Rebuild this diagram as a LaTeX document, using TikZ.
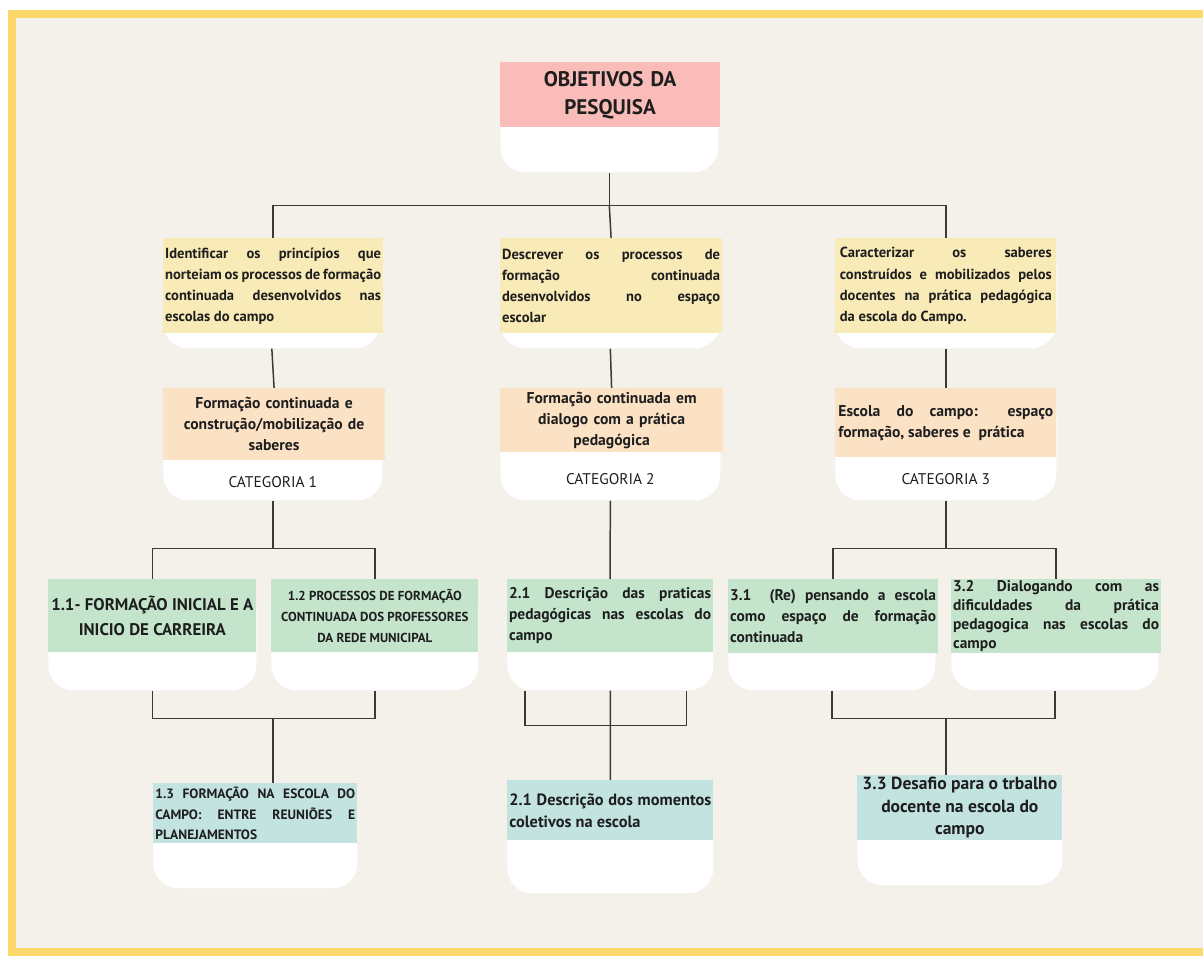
\documentclass[tikz,border=0pt]{standalone}
\usepackage{fontspec}
\setmainfont{PT Sans}
\usetikzlibrary{calc, positioning}
\hyphenpenalty=10000
\exhyphenpenalty=10000

\definecolor{pagebg}{HTML}{F4F0EA}
\definecolor{frameyellow}{HTML}{FCD86A}
\definecolor{titlepink}{HTML}{F9BCB8}
\definecolor{aimyellow}{HTML}{F9EBB7}
\definecolor{catpeach}{HTML}{FCE2C5}
\definecolor{subgreen}{HTML}{C4E5CC}
\definecolor{endteal}{HTML}{C3E3E1}
\definecolor{linegray}{HTML}{3A3A3A}
\definecolor{inkblack}{HTML}{1E1E1E}

\tikzset{
  card/.style={fill=white, rounded corners=0.5cm, inner sep=0pt, anchor=north west},
  box/.style={inner xsep=1pt, inner ysep=0pt, anchor=north west, text=inkblack},
  titlebox/.style={box, fill=titlepink, align=center, font=\bfseries\fontsize{12}{16}\selectfont},
  aimbox/.style={box, fill=aimyellow, align=justify, font=\bfseries\fontsize{8.3}{12}\selectfont},
  catbox/.style={box, fill=catpeach, align=center, font=\bfseries\fontsize{8.9}{12}\selectfont},
  subbox/.style={box, fill=subgreen, align=justify, font=\bfseries\fontsize{8.8}{12}\selectfont},
  endbox/.style={box, fill=endteal, align=justify, font=\bfseries\fontsize{8.6}{12.5}\selectfont},
  catlabel/.style={font=\fontsize{8.8}{10}\selectfont, text=inkblack},
  link/.style={draw=linegray, line width=0.85pt}
}

\begin{document}
\begin{tikzpicture}[x=0.02cm, y=-0.02cm]
\useasboundingbox (0,0) rectangle (1203,956);
\clip (0,0) rectangle (1203,956);

% Page and frame
\fill[white] (0,0) rectangle (1203,956);
\fill[pagebg] (12,14) rectangle (1220,952);
\draw[frameyellow, line width=0.16cm] (12,14) rectangle (1220,952);

% Top box
\node[card, minimum width=4.36cm, minimum height=2.2cm] (objc) at (500,62) {};
\node[titlebox, text width=4.32cm, minimum height=1.3cm] (obj) at (500,62) {OBJETIVOS DA\\PESQUISA};

% Research aims
\node[card, minimum width=4.34cm, minimum height=2.2cm] (aim1c) at (163,238) {};
\node[aimbox, text width=4.32cm, minimum height=1.9cm] (aim1) at (163,238)
  {Identificar os princípios que\linebreak norteiam os processos de formação\linebreak
   continuada desenvolvidos nas\linebreak escolas do campo};
\node[card, minimum width=4.4cm, minimum height=2.2cm] (aim2c) at (500,238) {};
\node[aimbox, text width=4.36cm, minimum height=1.9cm] (aim2) at (500,238)
  {Descrever os processos de\linebreak formação continuada\linebreak
   desenvolvidos no espaço\linebreak escolar};
\node[card, minimum width=4.42cm, minimum height=2.2cm] (aim3c) at (835,238) {};
\node[aimbox, text width=4.24cm, inner xsep=0.09cm, minimum height=1.9cm] (aim3) at (835,238)
  {Caracterizar os saberes\linebreak construídos e mobilizados pelos\linebreak
   docentes na prática pedagógica\linebreak da escola do Campo.};

% Categories
\node[card, minimum width=4.38cm, minimum height=2.24cm] (cat1c) at (163,388) {};
\node[catbox, text width=4.36cm, minimum height=1.44cm] (cat1) at (163,388)
  {Formação continuada e\\construção/mobilização de\\saberes};
\node[catlabel] (lab1) at ($(cat1c.south)+(0,-19)$) {CATEGORIA 1};

\node[card, minimum width=4.4cm, minimum height=2.24cm] (cat2c) at (500,388) {};
\node[catbox, text width=4.38cm, minimum height=1.28cm] (cat2) at (500,388)
  {Formação continuada em\\dialogo com a prática\\pedagógica};
\node[catlabel] (lab2) at ($(cat2c.south)+(0,-22)$) {CATEGORIA 2};

\node[card, minimum width=4.42cm, minimum height=2.24cm] (cat3c) at (835,388) {};
\node[catbox, align=justify, text width=4.3cm, inner xsep=0.06cm, minimum height=1.38cm] (cat3) at (835,388)
  {Escola do campo: espaço\linebreak formação, saberes e~~prática};
\node[catlabel] (lab3) at ($(cat3c.south)+(0,-22)$) {CATEGORIA 3};

% Sub-categories
\node[card, minimum width=4.16cm, minimum height=2.22cm] (sub11c) at (48,579) {};
\node[subbox, align=center, minimum width=4.16cm, inner xsep=0pt, minimum height=1.46cm,
  font=\bfseries\fontsize{9.6}{14.5}\selectfont] (sub11) at (48,579)
  {1.1- FORMAÇÃO INICIAL E A\\INICIO DE CARREIRA};
\node[card, minimum width=4.14cm, minimum height=2.22cm] (sub12c) at (271,579) {};
\node[subbox, align=center, minimum width=4.14cm, inner xsep=0pt, minimum height=1.46cm,
  font=\bfseries\fontsize{7.4}{12}\selectfont] (sub12) at (271,579)
  {1.2 PROCESSOS DE FORMAÇÃO\\CONTINUADA DOS PROFESSORES\\DA REDE MUNICIPAL};
\node[card, minimum width=4.12cm, minimum height=2.22cm] (sub21c) at (507,579) {};
\node[subbox, text width=4.04cm, minimum height=1.46cm] (sub21) at (507,579)
  {2.1 Descrição das praticas\linebreak pedagógicas nas escolas do\linebreak campo};
\node[card, minimum width=4.14cm, minimum height=2.22cm] (sub31c) at (728,579) {};
\node[subbox, text width=4.12cm, minimum height=1.48cm] (sub31) at (728,579)
  {3.1~~(Re) pensando a escola\linebreak como espaço de formação\linebreak continuada};
\node[card, minimum width=4.14cm, minimum height=2.22cm] (sub32c) at (951,579) {};
\node[subbox, text width=4.12cm, minimum height=1.48cm,
  font=\bfseries\fontsize{8.8}{10.8}\selectfont] (sub32) at (951,579)
  {3.2 Dialogando com as\linebreak dificuldades da prática\linebreak
   pedagogica nas escolas do\linebreak campo};

% Final themes
\node[card, minimum width=4.08cm, minimum height=2.1cm] (end1c) at (153,783) {};
\node[endbox, text width=4.0cm, inner xsep=0.04cm, minimum height=1.2cm,
  font=\bfseries\fontsize{7.7}{11.5}\selectfont] (end1) at (153,783)
  {1.3 FORMAÇÃO NA ESCOLA DO\linebreak CAMPO: ENTRE REUNIÕES E\linebreak PLANEJAMENTOS};
\node[card, minimum width=4.12cm, minimum height=2.26cm] (end2c) at (507,780) {};
\node[endbox, text width=4.04cm, inner xsep=0.04cm, minimum height=1.2cm,
  font=\bfseries\fontsize{9.3}{12.5}\selectfont] (end2) at (507,780)
  {2.1 Descrição dos momentos\linebreak coletivos na escola};
\node[card, minimum width=4.1cm, minimum height=2.2cm] (end3c) at (857,775) {};
\node[endbox, align=center, minimum width=4.1cm, inner xsep=0pt, minimum height=1.3cm,
  font=\bfseries\fontsize{10}{12.8}\selectfont] (end3) at (857,775)
  {3.3 Desafio para o trbalho\\docente na escola do\\campo};

% Connectors: top level
\coordinate (hub) at ($(objc.south)+(0,33)$);
\draw[link] (objc.south) -- (hub);
\draw[link] (aim1.north) |- (hub) -| (aim3.north);
\draw[link] (hub) -- (aim2.north);

\draw[link] (aim1c.south) -- (cat1.north);
\draw[link] (aim2c.south) -- (cat2.north);
\draw[link] (aim3c.south) -- (cat3.north);

% Connectors: categories to sub-categories
\coordinate (split1) at ($(cat1c.south)+(0,48)$);
\draw[link] (cat1c.south) -- (split1);
\draw[link] (sub11.north) |- (split1) -| (sub12.north);
\draw[link] (cat2c.south) -- (sub21.north);
\coordinate (split3) at ($(cat3c.south)+(0,48)$);
\draw[link] (cat3c.south) -- (split3);
\draw[link] (sub31.north) |- (split3) -| (sub32.north);

% Connectors: sub-categories to final themes
\coordinate (join1) at ($(sub11c.south)+(0,28)$);
\draw[link] (sub11c.south) -- (join1) -| (sub12c.south);
\draw[link] (join1 -| cat1c.south) -- (end1.north -| cat1c.south);

\coordinate (join2l) at ($(sub21c.south west)+(18,35)$);
\coordinate (join2r) at ($(sub21c.south east)+(-27,35)$);
\draw[link] ($(sub21c.south west)+(18,0)$) -- (join2l) -- (join2r)
  -- ($(sub21c.south east)+(-27,0)$);
\draw[link] (sub21c.south) -- (end2.north);

\coordinate (join3) at ($(sub31c.south)+(0,28)$);
\draw[link] (sub31c.south) -- (join3) -| (sub32c.south);
\draw[link] (join3 -| split3) -- (end3.north -| split3);
\end{tikzpicture}
\end{document}
